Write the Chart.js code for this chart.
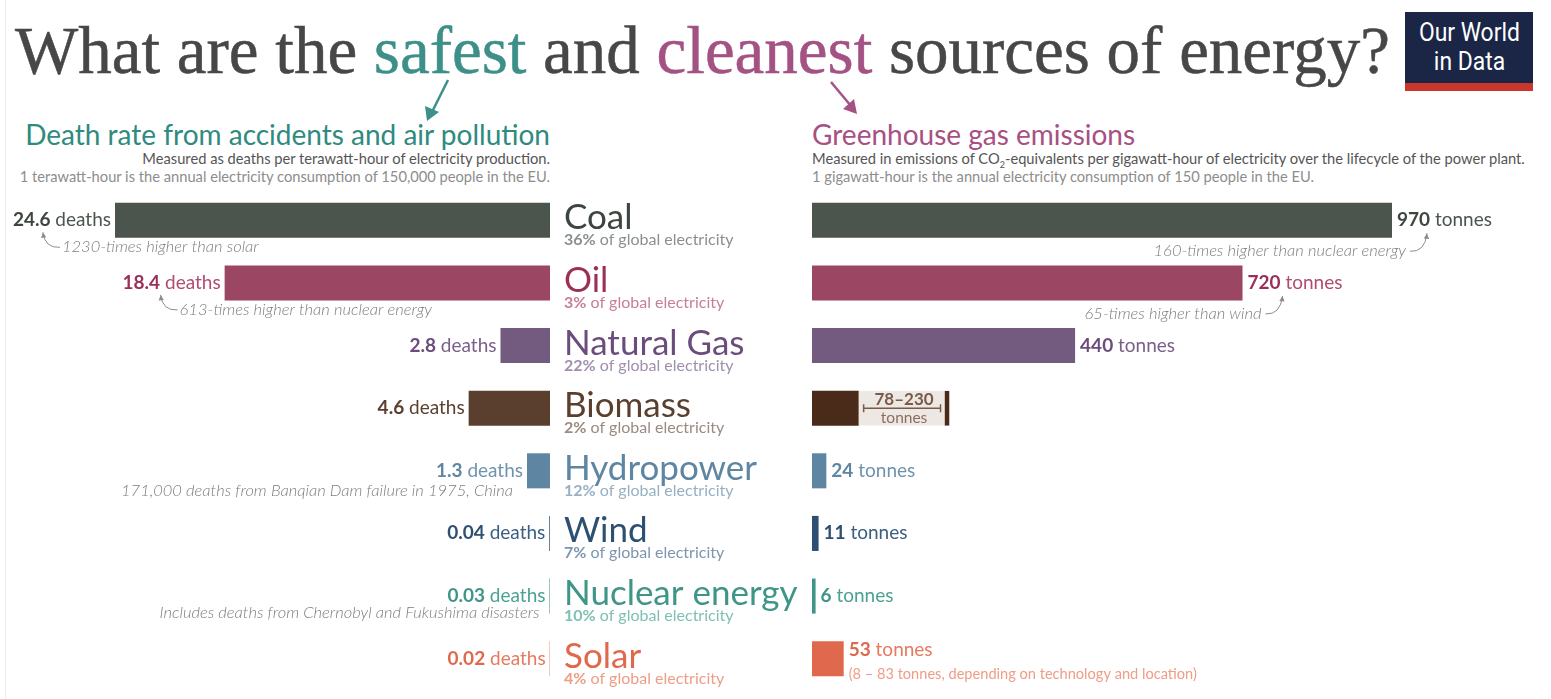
<!DOCTYPE html>
<html>
<head>
<meta charset="utf-8">
<script src="https://cdn.jsdelivr.net/npm/chart.js@4.4.1/dist/chart.umd.min.js"></script>
<style>
  body { margin: 0; background: #fff; width: 1551px; height: 699px; overflow: hidden; position: relative; font-family: Lato, sans-serif; }
  #edge { position: absolute; left: 5px; top: 0; width: 1px; height: 699px; background: #ececec; }
  #title { position: absolute; left: 15px; top: 16px; font-family: 'Liberation Serif', serif; font-size: 68px; line-height: 1; color: #474747; white-space: nowrap; transform-origin: 0 0; -webkit-text-stroke: 0.5px currentColor; }
  #title .safe { color: #3d9089; }
  #title .clean { color: #a35283; }
  #logo { position: absolute; left: 1405px; top: 12px; width: 128px; height: 65px; padding-top: 6px; background: #1b2646; border-bottom: 8px solid #c9372c; color: #fff; font-family: Roboto, sans-serif; font-size: 26px; line-height: 29px; text-align: center; }
  #logo span { display: inline-block; transform: scaleX(0.88); white-space: nowrap; }
  .sub { position: absolute; font-size: 28px; line-height: 1; white-space: nowrap; }
  .note { position: absolute; font-size: 14.7px; line-height: 18px; white-space: nowrap; }
  .note sub { font-size: 9px; line-height: 0; }
  #leftHead { right: 1001px; top: 120px; color: #2f8a80; }
  #rightHead { left: 812px; top: 120px; color: #a84f83; }
  #leftNote { right: 1001px; top: 149px; text-align: right; }
  #rightNote { left: 812px; top: 149px; text-align: left; }
  .n1 { color: #555; }
  .n2 { color: #8d8d8d; }
  canvas { position: absolute; }
  #left { left: 0; top: 189px; }
  #right { left: 805px; top: 189px; }
  svg { position: absolute; left: 0; top: 0; }
</style>
</head>
<body>
<div id="edge"></div>
<div id="title">What are the <span class="safe">safest</span> and <span class="clean">cleanest</span> sources of energy?</div>
<div id="logo"><span>Our World</span><br><span>in Data</span></div>
<svg width="1551" height="699">
  <line x1="448" y1="80" x2="432" y2="112" stroke="#3d9089" stroke-width="2.5"/>
  <polygon points="427,121 425,106 439,112" fill="#3d9089"/>
  <line x1="831" y1="82" x2="851" y2="106" stroke="#a35283" stroke-width="2.5"/>
  <polygon points="857,114 843,109 854,99" fill="#a35283"/>
</svg>
<div class="sub" id="leftHead">Death rate from accidents and air pollution</div>
<div class="sub" id="rightHead">Greenhouse gas emissions</div>
<div class="note" id="leftNote"><div class="n1">Measured as deaths per terawatt-hour of electricity production.</div><div class="n2">1 terawatt-hour is the annual electricity consumption of 150,000 people in the EU.</div></div>
<div class="note" id="rightNote"><div class="n1">Measured in emissions of CO<sub>2</sub>-equivalents per gigawatt-hour of electricity over the lifecycle of the power plant.</div><div class="n2">1 gigawatt-hour is the annual electricity consumption of 150 people in the EU.</div></div>
<canvas id="left" width="805" height="501"></canvas>
<canvas id="right" width="746" height="501"></canvas>
<script>
// data
const sources = ['Coal', 'Oil', 'Natural Gas', 'Biomass', 'Hydropower', 'Wind', 'Nuclear energy', 'Solar'];
const shareOfElectricity = [36, 3, 22, 2, 12, 7, 10, 4];
const deathRates = [24.6, 18.4, 2.8, 4.6, 1.3, 0.04, 0.03, 0.02];
const emissions = [970, 720, 440, 78, 24, 11, 6, 53];
const biomassRange = [78, 230];

const leftNotes = {
    0: '1230-times higher than solar',
    1: '613-times higher than nuclear energy',
    4: '171,000 deaths from Banqian Dam failure in 1975, China',
    6: 'Includes deaths from Chernobyl and Fukushima disasters'
};
const rightNotes = {
    0: '160-times higher than nuclear energy',
    1: '65-times higher than wind'
};
const solarNote = '(8 \u2013 83 tonnes, depending on technology and location)';

// colours
const barColors = ['#4b554d', '#9b4763', '#735b7f', '#5b3f2e', '#5e86a2', '#2d5072', '#3f9587', '#e0684c'];
const rightColors = ['#4b554d', '#9b4763', '#735b7f', '#4a2a18', '#5e86a2', '#2d5072', '#3f9587', '#e0684c'];
const boldColors = ['#3c463f', '#9c2f58', '#6a4d7c', '#5b3f2e', '#5e86a2', '#2d5072', '#3f9587', '#e0684c'];
const unitColors = ['#4b554d', '#b04c72', '#7a5f88', '#5b3f2e', '#6f93ad', '#3b5f80', '#4aa293', '#e67a5f'];
const subColors = ['#8a918c', '#c77f99', '#a08fad', '#9b8a80', '#97b1c4', '#7d95ad', '#7fc0b4', '#ee9d86'];

// title fitted to the reference width
let t = document.getElementById('title');
t.style.transform = 'scaleX(' + (1375 / t.scrollWidth) + ')';

function pair(ctx, bold, rest, x, y, align, c1, c2, size) {
    ctx.font = 'bold ' + size + 'px Lato';
    let w1 = ctx.measureText(bold).width;
    ctx.font = size + 'px Lato';
    let w2 = ctx.measureText(rest).width;
    let x0 = align === 'right' ? x - w1 - w2 : x;
    ctx.textAlign = 'left';
    ctx.font = 'bold ' + size + 'px Lato';
    ctx.fillStyle = c1;
    ctx.fillText(bold, x0, y);
    ctx.font = size + 'px Lato';
    ctx.fillStyle = c2;
    ctx.fillText(rest, x0 + w1, y);
    return {left: x0, right: x0 + w1 + w2};
}

function curlyArrow(ctx, x1, y1, cx, cy, x2, y2) {
    ctx.strokeStyle = '#8c8c8c';
    ctx.fillStyle = '#8c8c8c';
    ctx.lineWidth = 1;
    ctx.beginPath();
    ctx.moveTo(x1, y1);
    ctx.quadraticCurveTo(cx, cy, x2, y2);
    ctx.stroke();
    let a = Math.atan2(y2 - cy, x2 - cx);
    ctx.beginPath();
    ctx.moveTo(x2, y2);
    ctx.lineTo(x2 - 6 * Math.cos(a - 0.45), y2 - 6 * Math.sin(a - 0.45));
    ctx.lineTo(x2 - 6 * Math.cos(a + 0.45), y2 - 6 * Math.sin(a + 0.45));
    ctx.closePath();
    ctx.fill();
}

function noteText(ctx, txt, x, y, align) {
    ctx.font = 'italic 300 16.5px Lato';
    ctx.fillStyle = '#7d7d7d';
    ctx.textAlign = align;
    ctx.fillText(txt, x, y);
}

const leftLabels = {
    id: 'leftLabels',
    afterDatasetsDraw(chart) {
        let ctx = chart.ctx;
        ctx.save();
        ctx.textBaseline = 'alphabetic';
        chart.getDatasetMeta(0).data.forEach((bar, i) => {
            let y = bar.y;
            let lab = pair(ctx, String(deathRates[i]), ' deaths', bar.x - 4, y + 6, 'right', boldColors[i], unitColors[i], 19);
            if (i === 0 || i === 1) {
                let tipX = lab.left + (i === 0 ? 30 : 38);
                let ny = y + 32;
                curlyArrow(ctx, tipX + 17, ny - 5, tipX + 2, ny - 4, tipX, y + 12);
                noteText(ctx, leftNotes[i], tipX + 19, ny, 'left');
            } else if (leftNotes[i]) {
                noteText(ctx, leftNotes[i], bar.x - (i === 4 ? 14 : 10), y + (i === 4 ? 25 : 22), 'right');
            }
            // source name in the middle column
            let mx = chart.chartArea.right + 14;
            ctx.textAlign = 'left';
            ctx.font = '35px Lato';
            ctx.fillStyle = boldColors[i];
            ctx.fillText(sources[i], mx, y + 9);
            pair(ctx, shareOfElectricity[i] + '%', ' of global electricity', mx, y + 25, 'left', subColors[i], subColors[i], 16);
        });
        ctx.restore();
    }
};

const rightLabels = {
    id: 'rightLabels',
    afterDatasetsDraw(chart) {
        let ctx = chart.ctx;
        ctx.save();
        let bars = chart.getDatasetMeta(0).data;
        bars.forEach((bar, i) => {
            let y = bar.y;
            if (i === 3) {
                let rng = chart.getDatasetMeta(1).data[3];
                let cx = (rng.base + rng.x) / 2;
                ctx.textAlign = 'center';
                ctx.font = 'bold 17px Lato';
                ctx.fillStyle = '#7a5b49';
                ctx.fillText(biomassRange[0] + '\u2013' + biomassRange[1], cx, y - 3);
                ctx.font = '15.5px Lato';
                ctx.fillStyle = '#8a6e5e';
                ctx.fillText('tonnes', cx, y + 15);
                ctx.strokeStyle = '#7a5b49';
                ctx.lineWidth = 1.5;
                ctx.beginPath();
                ctx.moveTo(rng.base + 5, y);
                ctx.lineTo(rng.x - 9, y);
                ctx.moveTo(rng.base + 5, y - 4);
                ctx.lineTo(rng.base + 5, y + 4);
                ctx.moveTo(rng.x - 9, y - 4);
                ctx.lineTo(rng.x - 9, y + 4);
                ctx.stroke();
                return;
            }
            let dy = i === 7 ? -3 : 6;
            let lab = pair(ctx, String(emissions[i]), ' tonnes', bar.x + 5, y + dy, 'left', boldColors[i], unitColors[i], 19);
            if (rightNotes[i]) {
                let tipX = lab.left + (i === 0 ? 30 : 35);
                let ny = y + 36;
                curlyArrow(ctx, tipX - 17, ny - 5, tipX - 2, ny - 4, tipX, y + 13);
                noteText(ctx, rightNotes[i], tipX - 21, ny, 'right');
            }
            if (i === 7) {
                ctx.font = '14.6px Lato';
                ctx.fillStyle = subColors[7];
                ctx.textAlign = 'left';
                ctx.fillText(solarNote, bar.x + 5, y + 20);
            }
        });
        ctx.restore();
    }
};

const common = {
    responsive: false,
    animation: false,
    indexAxis: 'y',
    plugins: { legend: { display: false }, tooltip: { enabled: false } }
};

new Chart(document.getElementById('left'), {
    type: 'bar',
    data: {
        labels: sources,
        datasets: [{
            data: deathRates,
            backgroundColor: barColors,
            categoryPercentage: 1,
            barPercentage: 0.56,
            borderWidth: 0
        }]
    },
    options: Object.assign({}, common, {
        layout: { padding: { left: 115, right: 255, top: 0, bottom: 0 } },
        scales: {
            x: { display: false, reverse: true, min: 0, max: 24.6 },
            y: { display: false }
        }
    }),
    plugins: [leftLabels]
});

new Chart(document.getElementById('right'), {
    type: 'bar',
    data: {
        labels: sources,
        datasets: [{
            data: emissions,
            backgroundColor: rightColors,
            categoryPercentage: 1,
            barPercentage: 0.56,
            borderWidth: 0,
            grouped: false
        }, {
            data: sources.map((s, i) => i === 3 ? biomassRange : null),
            backgroundColor: '#ede8e4',
            borderColor: '#4a2a18',
            borderWidth: { right: 5, left: 0, top: 0, bottom: 0 },
            borderSkipped: false,
            categoryPercentage: 1,
            barPercentage: 0.56,
            grouped: false
        }]
    },
    options: Object.assign({}, common, {
        layout: { padding: { left: 7, right: 159, top: 0, bottom: 0 } },
        scales: {
            x: { display: false, min: 0, max: 970 },
            y: { display: false }
        }
    }),
    plugins: [rightLabels]
});
</script>
</body>
</html>
